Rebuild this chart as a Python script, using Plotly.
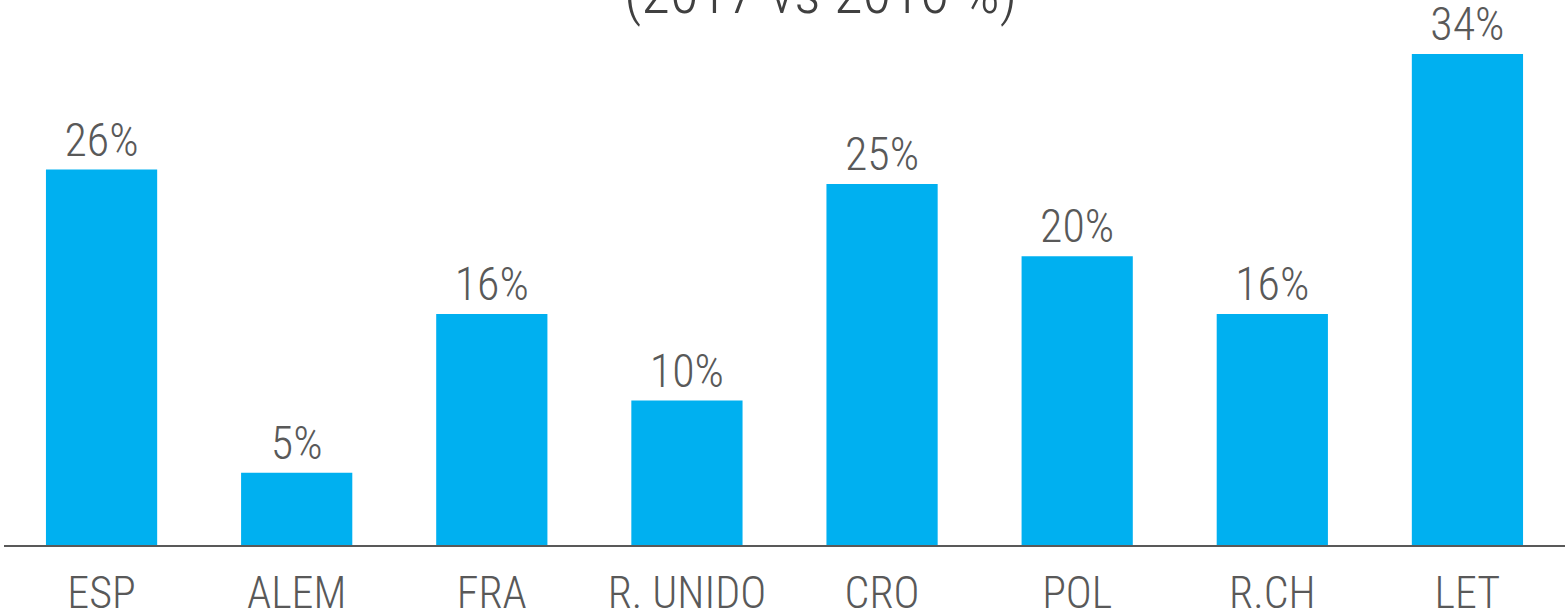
import plotly.graph_objects as go

categories = ["ESP", "ALEM", "FRA", "R. UNIDO", "CRO", "POL", "R.CH", "LET"]
values = [26, 5, 16, 10, 25, 20, 16, 34]
labels = [f"{v}%" for v in values]
title_line = "(2017 vs 2016 %)"

FONT = "Roboto Condensed"
GREY = "#595959"

fig = go.Figure(go.Bar(
    x=categories, y=values, text=labels, textposition="outside",
    marker=dict(color="#00B0F0", line=dict(width=0)),
    textfont=dict(family=FONT, size=46, weight=300, color=GREY),
    cliponaxis=False,
))
fig.add_annotation(text=title_line, xref="paper", yref="paper", x=0.523, y=1.0, yshift=-29,
                   xanchor="center", yanchor="bottom", showarrow=False,
                   font=dict(family=FONT, size=59, weight=300, color="#404040"))
fig.update_layout(
    width=1566, height=615,
    margin=dict(l=4, r=1, t=0, b=70),
    plot_bgcolor="white", paper_bgcolor="white",
    bargap=0.43, showlegend=False,
    xaxis=dict(showline=True, linecolor=GREY, linewidth=2, ticks="", showgrid=False,
               automargin=False, ticklabelstandoff=8,
               tickfont=dict(family=FONT, size=44, weight=300, color=GREY)),
    yaxis=dict(range=[0, 37.74], visible=False, showgrid=False, zeroline=False,
               automargin=False),
)
fig.write_html("out.html", config={"displayModeBar": False},
               post_script="document.body.style.margin='0px';")
